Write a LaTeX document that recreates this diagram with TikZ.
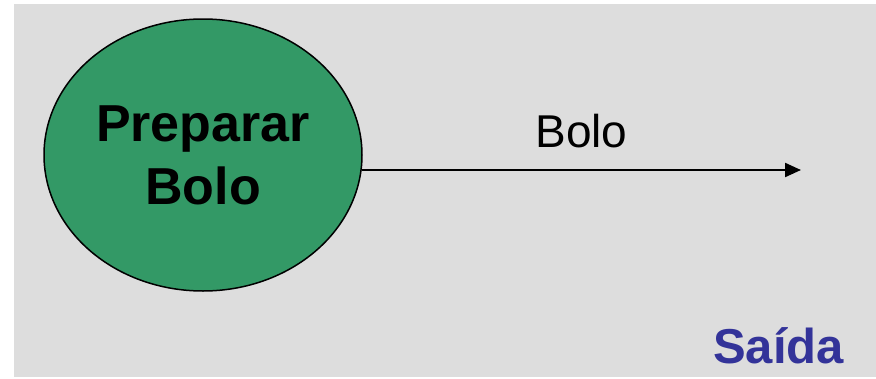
\documentclass[tikz,border=0pt]{standalone}
\usepackage{fontspec}
\setmainfont{Liberation Sans}
\usetikzlibrary{shapes.geometric}
\usetikzlibrary{arrows.meta}
\definecolor{fundo}{HTML}{DDDDDD}
\definecolor{verde}{HTML}{339966}
\definecolor{azul}{HTML}{333399}
\begin{document}
\begin{tikzpicture}[x=1pt, y=-1pt, >={Triangle[length=16pt,width=14pt]}]
      \useasboundingbox (0,0) rectangle (876,378);
      \fill [fundo] (14,4) rectangle (876,377);

      \node [draw=black, line width=1.5pt, fill=verde, ellipse, inner sep=0pt,
        minimum width=318pt, minimum height=272pt, align=center,
        font=\fontsize{52}{63}\selectfont\bfseries, name=prep] at (203,155)
      {Preparar\\Bolo};
      \coordinate (fim) at (801,170);

      \node [anchor=base, font=\fontsize{49}{58}\selectfont\bfseries,
        text=azul, name=saida] at (778.5,363) {Saída};

      \draw [->, line width=2.2pt] ([xshift=-1pt]prep.east |- fim) -- (fim)
        node [midway, anchor=base, yshift=23pt, font=\fontsize{46}{55}\selectfont,
        name=lbl] {Bolo};
\end{tikzpicture}
\end{document}
